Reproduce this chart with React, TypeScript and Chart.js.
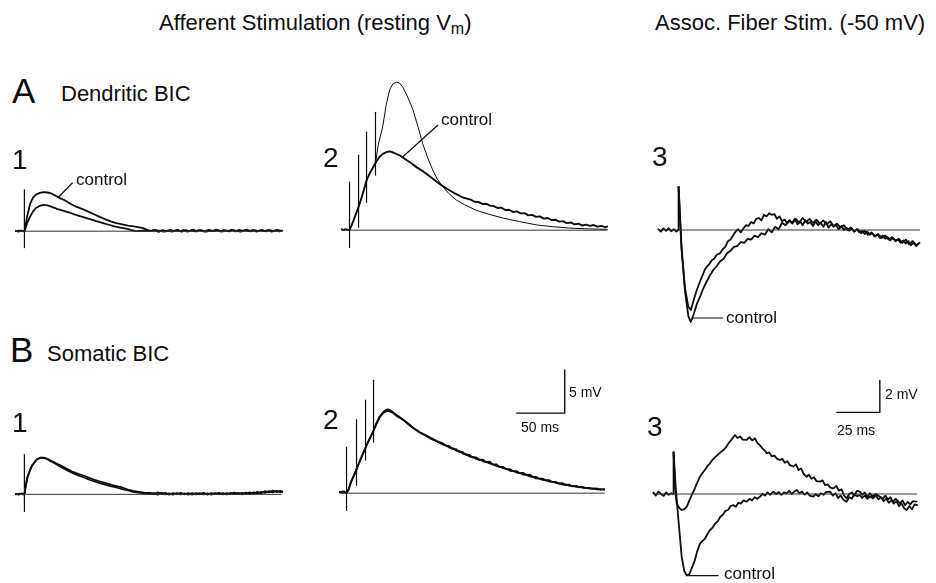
import React, { useEffect, useRef } from "react";
import { Chart, registerables } from "chart.js";

Chart.register(...registerables);

// ---------- DATA (time in ms relative to stimulus, voltage in mV) ----------
type P = [number, number];

// A1 – dendritic BIC, afferent stimulation, single shock
const a1Control: P[] = [[-9,0.05],[-6,-0.05],[-3,0.08],[-1,0],[0,0],[1,0.5],[3,1.8],[6,3.2],[9,3.9],[12,4.25],[16,4.45],[20,4.55],[24,4.5],[28,4.4],[32,4.15],[37,3.85],[42,3.6],[48,3.2],[54,2.85],[60,2.6],[66,2.3],[72,2.0],[78,1.7],[84,1.4],[90,1.15],[96,0.95],[102,0.8],[108,0.65],[114,0.55],[120,0.45],[124,0.35],[128,0.15],[132,0.05],[136,0.15],[140,-0.08],[144,0.14],[148,-0.02],[152,0.18],[156,0.02],[160,0.16],[164,-0.06],[168,0.12],[172,0.0],[176,0.18],[180,-0.02],[184,0.14],[188,-0.04],[192,0.16],[196,0.02],[200,0.18],[204,-0.02],[208,0.14],[212,0.0],[216,0.17],[220,-0.04],[224,0.15],[228,0.03],[232,0.18],[236,-0.02],[240,0.14],[244,0.02],[248,0.17],[252,-0.03],[256,0.14],[260,0.02],[264,0.16],[268,0.03]];
const a1Bic: P[] = [[-9,0],[-5,0.08],[-2,-0.03],[0,0],[1,0.3],[3,1.0],[6,1.7],[9,2.3],[12,2.7],[16,2.95],[20,3.05],[24,3.0],[28,2.85],[34,2.6],[40,2.4],[46,2.2],[52,1.95],[58,1.75],[64,1.55],[70,1.35],[76,1.15],[82,0.95],[88,0.75],[94,0.55],[100,0.42],[106,0.3],[112,0.12],[116,0.05],[120,0],[125,0.08],[130,0.02],[135,0.1],[140,0.08],[145,-0.05],[150,0.05],[154,-0.05],[158,0.1],[162,0.0],[166,0.14],[170,-0.06],[174,0.08],[178,-0.02],[182,0.14],[186,0.02],[190,-0.05],[194,0.1],[198,0.0],[202,0.13],[206,-0.06],[210,0.09],[214,-0.02],[218,0.14],[222,0.01],[226,-0.04],[230,0.11],[234,0.0],[238,0.14],[242,-0.04],[246,0.1],[250,0.01],[254,0.14],[258,-0.05],[262,0.09],[266,-0.02],[269,0.06]];
const a1Stim: [number, number, number][] = [[0,-1.9,4.8]];
const a1Base: P[] = [[-9,0],[268,0]];
const a1Leader: P[] = [[50,5.6],[35.4,3.95]];

// A2 – dendritic BIC, afferent train of four shocks
const a2Control: P[] = [[-8,0.1],[-6,0],[-4,0.12],[-2,0.05],[0,0],[3,0.8],[6,1.7],[9.4,2.7],[12,3.6],[15,4.7],[17.7,5.8],[21,6.6],[24,7.2],[27,7.8],[31,8.5],[35,8.9],[39,9.1],[42,9.15],[46,9.0],[52,8.7],[58,8.25],[64,7.8],[70,7.3],[77,6.8],[84,6.2],[90,5.7],[96,5.2],[103,4.7],[110,4.25],[118,3.8],[126,3.55],[130,3.3],[134,3.28],[138,3.05],[142,3.08],[146,2.85],[150,2.8],[154,2.58],[158,2.62],[162,2.35],[166,2.38],[170,2.12],[174,2.18],[178,1.95],[182,1.98],[186,1.72],[190,1.78],[194,1.55],[198,1.6],[202,1.35],[206,1.42],[210,1.18],[214,1.22],[218,1.0],[222,1.05],[226,0.82],[230,0.9],[234,0.68],[238,0.75],[242,0.55],[246,0.65],[250,0.5],[254,0.6],[258,0.42],[262,0.5],[266,0.35],[268,0.42]];
const a2Bic: P[] = [[-8,0.05],[-5,0.1],[-2,0],[0,0],[3,0.8],[6,1.7],[9.4,2.7],[12,3.6],[15,4.7],[17.7,5.8],[21,6.6],[24,7.2],[27,7.8],[30,10.0],[34.5,12.0],[38,14.5],[41.7,16.3],[45,17.0],[49,17.2],[52,17.1],[55,16.7],[60,15.6],[66,14.0],[71,12.1],[76,10.1],[81,8.5],[86.5,7.0],[91,6.0],[96,5.2],[103,4.3],[111,3.5],[120,2.95],[132,2.3],[145,1.85],[160,1.4],[177,1.0],[195,0.6],[212,0.4],[229,0.25],[248,0.15],[268,0.1]];
const a2Stim: [number, number, number][] = [[0,-2.0,5.6],[9.4,0.35,8.7],[17.7,3.26,11.4],[27,6.4,13.7]];
const a2Base: P[] = [[-8,0],[268,0]];
const a2Leader: P[] = [[91.7,12.2],[55.2,8.5]];

// A3 – dendritic BIC, association fibre stimulation at -50 mV
const a3Pre: P[] = [[-11.5,0.05],[-10,-0.1],[-8.5,0.1],[-7,-0.05],[-5.5,0.12],[-4,-0.08],[-2.5,0.05],[-1,-0.1],[0,0],[0.3,2.7]];
const a3Bic: P[] = [[0.3,2.7],[2,-1.2],[4,-3.6],[6,-4.8],[7.5,-5.0],[9,-4.4],[10.9,-3.75],[12.5,-3.3],[14,-2.9],[15.5,-2.5],[16.7,-2.3],[18,-2.15],[19.5,-1.9],[21,-1.8],[22.5,-1.55],[24.4,-1.46],[26,-1.2],[27.5,-1.05],[29,-0.7],[30.5,-0.6],[32,-0.35],[33.5,-0.1],[35,0.05],[36.5,-0.15],[38,0.1],[39.5,0.3],[41,0.25],[42.5,0.5],[44,0.4],[45.5,0.7],[47,0.75],[48.5,0.6],[50,0.95],[51.5,0.85],[53,1.05],[54.5,0.95],[56,1.0],[57.5,0.7],[59,0.85],[60.5,0.55],[62,0.65],[63.5,0.4],[65,0.6],[66.5,0.45],[68,0.7],[69.5,0.35],[71,0.55],[72.5,0.3],[74,0.6],[75.5,0.4],[77,0.5],[78.5,0.25],[80,0.55],[81.5,0.3],[83,0.45],[84.5,0.2],[86,0.5],[87.5,0.15],[89,0.35],[90.5,0.2],[92,0.3],[93.5,0.05],[95,0.25],[96.5,0],[98,0.15],[99.5,-0.05],[101,0.1],[102.5,-0.1],[104,0.05],[105.5,-0.15],[107,-0.05],[108.5,-0.25],[110,-0.1],[111.5,-0.3],[113,-0.2],[114.5,-0.4],[116,-0.3],[117.5,-0.5],[119,-0.35],[120.5,-0.55],[122,-0.45],[123.5,-0.65],[125,-0.5],[126.5,-0.7],[128,-0.6],[129.5,-0.8],[131,-0.65],[132.5,-0.85],[134,-0.7],[135.5,-0.95],[137,-0.8],[138.5,-1.0],[140,-0.85]];
const a3Control: P[] = [[0.3,2.7],[2,-1.0],[4,-3.8],[6,-5.4],[7.4,-5.75],[9,-5.3],[11,-4.6],[12.8,-4.17],[14.5,-3.7],[16.5,-3.25],[18.5,-2.85],[20.5,-2.5],[22.5,-2.25],[24.5,-1.95],[26.5,-1.8],[28.5,-1.45],[30.5,-1.3],[32.5,-1.05],[34.5,-1.0],[36.5,-0.75],[38.5,-0.8],[40.5,-0.55],[42.5,-0.6],[44.5,-0.35],[46.5,-0.45],[48.5,-0.2],[50.5,-0.3],[52.5,0.05],[54.5,-0.15],[56.5,0.2],[58.5,0.05],[60.5,0.45],[62.5,0.3],[64.5,0.6],[66.5,0.4],[68.5,0.7],[70.5,0.45],[72.5,0.75],[74.5,0.5],[76.5,0.7],[78.5,0.45],[80.5,0.65],[82.5,0.4],[84.5,0.6],[86.5,0.35],[88.5,0.55],[90.5,0.25],[92.5,0.4],[94.5,0.15],[96.5,0.3],[98.5,0],[100.5,0.15],[102.5,-0.1],[104.5,0.05],[106.5,-0.2],[108.5,-0.05],[110.5,-0.3],[112.5,-0.15],[114.5,-0.4],[116.5,-0.25],[118.5,-0.5],[120.5,-0.35],[122.5,-0.6],[124.5,-0.45],[126.5,-0.65],[128.5,-0.55],[130.5,-0.8],[132.5,-0.6],[134.5,-0.9],[136.5,-0.7],[138.5,-0.95],[140.5,-0.8]];
const a3Base: P[] = [[-11.5,0],[140.5,0]];
const a3Leader: P[] = [[8.5,-5.5],[26,-5.5]];

// B1 – somatic BIC, afferent single shock
const b1Control: P[] = [[-9,0.05],[-6,-0.05],[-3,0.1],[0,0],[1,0.8],[3,2.0],[6,2.9],[8,3.4],[10.4,3.75],[13,4.1],[16.7,4.3],[20,4.3],[24,4.15],[27,3.95],[32,3.7],[38,3.35],[44.8,2.95],[50,2.65],[56,2.4],[61.5,2.2],[67,1.95],[73,1.7],[79,1.5],[85,1.3],[90,1.15],[96,0.97],[102,0.8],[108,0.55],[113.5,0.4],[119,0.3],[125,0.2],[131,0.17],[135,0.02],[139,0.22],[143,0.05],[147,0.18],[151,-0.03],[155,0.15],[159,0.02],[163,0.18],[167,-0.01],[171,0.15],[175,-0.03],[179,0.13],[183,0.02],[187,0.18],[191,-0.03],[195,0.15],[199,0.02],[203,0.18],[207,-0.01],[211,0.15],[215,0.02],[219,0.21],[223,0.02],[227,0.18],[231,0.05],[235,0.23],[239,0.07],[243,0.28],[247,0.12],[251,0.38],[255,0.22],[259,0.43],[263,0.27],[267,0.41],[269,0.3]];
const b1Bic: P[] = [[-9,0],[-5,0.08],[-2,0],[0,0],[1,0.7],[3,1.9],[6,2.85],[8,3.35],[10.4,3.7],[13,4.05],[16.7,4.25],[20,4.25],[24,4.1],[27,3.9],[32,3.6],[38,3.2],[44.8,2.8],[50,2.5],[56,2.2],[61.5,2.0],[67,1.75],[73,1.5],[79,1.3],[85,1.1],[90,0.95],[96,0.8],[102,0.6],[108,0.45],[113.5,0.3],[119,0.2],[125,0.12],[131,0.05],[135,0.14],[139,-0.04],[143,0.17],[147,0.0],[151,0.12],[155,-0.05],[159,0.14],[163,-0.02],[167,0.12],[171,-0.04],[175,0.14],[179,0.0],[183,0.15],[187,-0.02],[191,0.12],[195,-0.04],[199,0.14],[203,0.01],[207,0.15],[211,-0.02],[215,0.17],[219,0.03],[223,0.17],[227,0.0],[231,0.2],[235,0.03],[239,0.22],[243,0.08],[247,0.3],[251,0.16],[255,0.37],[259,0.23],[263,0.42],[267,0.26],[269,0.35]];
const b1Stim: [number, number, number][] = [[0,-2.0,4.65]];
const b1Base: P[] = [[-9,0],[268,0]];

// B2 – somatic BIC, afferent train
const b2Control: P[] = [[-7,0.15],[-5,0.05],[-3,0.2],[-1,0.1],[0,0],[2,0.4],[5,1.4],[7.5,2.0],[10,2.67],[13,3.5],[16,4.3],[18.75,5.0],[21,5.6],[24,6.3],[27.4,7.1],[31,8.1],[34.4,8.9],[38,9.4],[41,9.65],[43,9.75],[46,9.6],[49,9.35],[51.7,9.1],[56,8.8],[60,8.45],[65,8.0],[70,7.55],[76,7.1],[82,6.75],[88,6.4],[94,6.05],[100,5.8],[103,5.55],[107,5.45],[110,5.15],[114,5.1],[117,4.8],[121,4.75],[124,4.45],[128,4.45],[131,4.15],[135,4.15],[138,3.85],[142,3.9],[145,3.6],[149,3.65],[152,3.35],[156,3.35],[159,3.05],[163,3.05],[166,2.8],[170,2.8],[173,2.55],[177,2.55],[180,2.35],[184,2.35],[187,2.1],[190.6,2.15],[194,1.9],[197,1.9],[200,1.7],[204,1.7],[207,1.5],[211,1.5],[214,1.3],[218,1.3],[221,1.12],[225,1.15],[228,0.95],[232,0.98],[235,0.8],[239,0.85],[242,0.68],[246,0.72],[249,0.58],[253,0.62],[256,0.5],[260,0.55],[264,0.42],[268,0.48]];
const b2Bic: P[] = [[-7,0.1],[-4,0.2],[-2,0.05],[0,0],[2,0.4],[5,1.4],[7.5,2.0],[10,2.67],[13,3.5],[16,4.3],[18.75,5.0],[21,5.6],[24,6.3],[27.4,7.1],[31,8.0],[34.4,8.8],[38,9.3],[41,9.5],[43,9.55],[46,9.45],[49,9.25],[51.7,9.0],[56,8.7],[60,8.4],[65,7.95],[70,7.5],[76,7.05],[82,6.7],[88,6.3],[94,6.0],[100,5.65],[104,5.5],[107,5.3],[111,5.2],[114,4.95],[118,4.85],[121,4.6],[125,4.5],[128,4.25],[132,4.2],[135,3.95],[139,3.9],[142,3.7],[146,3.6],[149,3.45],[153,3.3],[156,3.15],[160,3.05],[163,2.9],[167,2.8],[170,2.6],[174,2.55],[177,2.4],[181,2.3],[184,2.15],[188,2.1],[190.6,1.95],[195,1.85],[197,1.72],[201,1.68],[204,1.55],[208,1.48],[211,1.35],[215,1.3],[218,1.18],[222,1.12],[225,1.0],[229,0.98],[232,0.85],[236,0.84],[239,0.72],[243,0.72],[246,0.62],[250,0.62],[253,0.52],[257,0.55],[260,0.45],[264,0.48],[268,0.4]];
const b2Stim: [number, number, number][] = [[0,-2.0,5.35],[10.4,0.93,8.5],[19.8,3.84,10.8],[28.1,5.93,13.1]];
const b2Base: P[] = [[-7,0],[268,0]];
const b2ScaleBar = { t: 177, v: 9.3, ms: 50, mv: 5 };

// B3 – somatic BIC, association fibre stimulation
const b3Pre: P[] = [[-11.5,0.1],[-10,-0.1],[-8.5,0.15],[-7,0],[-5.5,-0.12],[-4,0.1],[-2.5,-0.05],[-1,0.05],[0,0],[0.3,2.6]];
const b3Control: P[] = [[0.3,2.6],[1.5,0.5],[3.1,-1.6],[5,-3.9],[6.5,-4.8],[8,-5.1],[9.5,-5.0],[11,-4.6],[12.5,-4.2],[14,-3.6],[15.7,-3.1],[17,-2.95],[18.5,-2.8],[20,-2.5],[21.5,-2.25],[23,-2.1],[24.5,-1.85],[26,-1.7],[27.5,-1.42],[29,-1.3],[30.5,-1.05],[32,-1.0],[33.5,-0.75],[35,-0.69],[36.5,-0.8],[38,-0.55],[39.5,-0.6],[41,-0.4],[42.8,-0.48],[44.5,-0.3],[46,-0.4],[47.5,-0.2],[49,-0.3],[50.6,-0.17],[52,0],[53.5,-0.1],[55,0.1],[56.5,-0.05],[58.3,0.15],[60,0],[61.5,0.12],[63,-0.05],[64.5,0.1],[66,0.04],[67.5,0.2],[69,0],[70.5,0.15],[72,0.25],[73.5,0.05],[75,0.15],[76.5,-0.05],[78,0.1],[79.5,-0.1],[81.6,-0.17],[83,0],[84.5,-0.15],[86,0.05],[87.5,-0.05],[89,0.12],[91.3,0.15],[93,-0.1],[94.5,0.05],[96,-0.25],[97.5,-0.1],[99,-0.35],[101,-0.48],[102.5,-0.2],[104,-0.3],[105.5,0],[107,-0.15],[108.7,-0.06],[110,-0.25],[111.5,-0.1],[113,-0.3],[114.5,-0.15],[116.3,-0.27],[118,-0.1],[119.5,-0.35],[121,-0.2],[122.5,-0.45],[124,-0.3],[125.5,-0.55],[127,-0.4],[128.5,-0.6],[130,-0.45],[131.5,-0.75],[133,-0.6],[134.5,-0.9],[136,-1.0],[137.5,-0.75],[139,-0.95],[140.5,-0.65],[142,-0.7]];
const b3Bic: P[] = [[0.3,2.6],[1.2,0.3],[2.1,-0.58],[3.5,-0.85],[5,-1.0],[6.5,-0.95],[8,-0.79],[9.5,-0.4],[10.9,-0.06],[12.5,0.3],[14,0.7],[15.7,1.08],[17,1.3],[18.5,1.5],[20,1.75],[21.5,1.92],[23,2.15],[24.5,2.3],[26,2.45],[27.5,2.6],[29.3,2.75],[31,2.95],[32.5,3.2],[34,3.4],[36,3.69],[37.5,3.5],[39,3.6],[40.5,3.4],[42.8,3.38],[44.5,3.55],[46,3.35],[47.7,3.48],[49,3.2],[50.5,3.05],[52,2.85],[53.5,2.7],[54.5,2.54],[56,2.6],[57.5,2.35],[59,2.4],[60.5,2.2],[62.2,2.125],[63.5,2.2],[65,1.95],[66.5,2.05],[68,1.8],[70,1.71],[71.5,1.85],[73,1.5],[74.5,1.6],[76,1.25],[77.7,1.08],[79,1.2],[80.5,0.95],[82,1.05],[83.5,0.8],[85.5,0.77],[87,0.85],[88.5,0.55],[90,0.6],[91.5,0.4],[93.2,0.35],[95,0.5],[96.5,0.2],[98,0.3],[99.5,-0.1],[101,-0.27],[102.5,0],[104,0.1],[105.5,-0.1],[107,0.2],[108.7,0.15],[110,-0.05],[111.5,0.1],[113,-0.2],[114.5,0.05],[116,-0.15],[118,0],[120.3,-0.17],[122,-0.3],[123.5,-0.1],[125,-0.35],[126.5,-0.2],[128,-0.5],[129.5,-0.3],[131,-0.45],[132,-0.58],[133.5,-0.4],[135,-0.7],[136.5,-0.5],[138,-0.65],[139.5,-0.45],[141.7,-0.48]];
const b3Base: P[] = [[-11.5,0],[141.7,0]];
const b3Leader: P[] = [[9,-5.1],[26.2,-5.1]];
const b3ScaleBar = { t: 95.3, v: 5.1, ms: 25, mv: 2 };

// ---------- helpers ----------
const INK = "#0d0d0d";
const xy = (a: P[]) => a.map(([x, y]) => ({ x, y }));
const line = (a: P[], w = 1.8, color = INK) => ({
  data: xy(a), showLine: true, borderColor: color, borderWidth: w,
  pointRadius: 0, fill: false, tension: 0, borderCapStyle: "round", borderJoinStyle: "round",
});
const stims = (s: [number, number, number][], w = 1.2) =>
  s.map(([t, lo, hi]) => line([[t, lo], [t, hi]], w));
const scaleBar = (b: { t: number; v: number; ms: number; mv: number }) =>
  line([[b.t, b.v], [b.t + b.ms, b.v], [b.t + b.ms, b.v + b.mv]], 1.4);

type PanelDef = {
  x0: number; y0: number; pxMs: number; pxMv: number;
  t: [number, number]; v: [number, number]; datasets: any[];
};

const SLOW = { pxMs: 48 / 50, pxMv: 43 / 5 };
const FAST = { pxMs: 43 / 25, pxMv: 32 / 2 };

const panels: PanelDef[] = [
  { x0: 24, y0: 231, ...SLOW, t: [-14, 275], v: [-3, 7],
    datasets: [line(a1Base, 1, "#333"), line(a1Bic), line(a1Control), ...stims(a1Stim), line(a1Leader, 1.2)] },
  { x0: 350, y0: 230, ...SLOW, t: [-12, 272], v: [-3, 18.5],
    datasets: [line(a2Base, 1, "#333"), line(a2Bic, 1.0), line(a2Control, 1.9), ...stims(a2Stim), line(a2Leader, 1.2)] },
  { x0: 678, y0: 230, ...FAST, t: [-14, 146], v: [-7, 4],
    datasets: [line(a3Base, 1, "#333"), line(a3Pre), line(a3Bic), line(a3Control), line(a3Leader, 1.2)] },
  { x0: 24, y0: 495, ...SLOW, t: [-14, 275], v: [-3, 6],
    datasets: [line(b1Base, 1, "#333"), line(b1Bic), line(b1Control), ...stims(b1Stim)] },
  { x0: 347, y0: 493, ...SLOW, t: [-12, 272], v: [-3, 15],
    datasets: [line(b2Base, 1, "#333"), line(b2Bic), line(b2Control), ...stims(b2Stim), scaleBar(b2ScaleBar)] },
  { x0: 673, y0: 494, ...FAST, t: [-14, 146], v: [-6.5, 8],
    datasets: [line(b3Base, 1, "#333"), line(b3Pre), line(b3Control), line(b3Bic), line(b3Leader, 1.2), scaleBar(b3ScaleBar)] },
];

function Panel({ p }: { p: PanelDef }) {
  const ref = useRef<HTMLCanvasElement>(null);
  const left = p.x0 + p.t[0] * p.pxMs;
  const top = p.y0 - p.v[1] * p.pxMv;
  const width = Math.round((p.t[1] - p.t[0]) * p.pxMs);
  const height = Math.round((p.v[1] - p.v[0]) * p.pxMv);
  useEffect(() => {
    if (!ref.current) return;
    const chart = new Chart(ref.current, {
      type: "scatter",
      data: { datasets: p.datasets },
      options: {
        animation: false, responsive: false, devicePixelRatio: 1,
        layout: { padding: 0 },
        plugins: { legend: { display: false }, tooltip: { enabled: false } },
        scales: {
          x: { type: "linear", min: p.t[0], max: p.t[1], display: false },
          y: { type: "linear", min: p.v[0], max: p.v[1], display: false },
        },
      } as any,
    });
    return () => chart.destroy();
  }, []);
  return (
    <canvas ref={ref} width={width} height={height}
      style={{ position: "absolute", left, top, width, height }} />
  );
}

const FONT = "'Liberation Sans', Arial, Helvetica, sans-serif";
function T({ x, y, size, children }: { x: number; y: number; size: number; children: any }) {
  return (
    <div style={{ position: "absolute", left: x, top: y, fontSize: size, lineHeight: 1,
      fontFamily: FONT, color: INK, whiteSpace: "nowrap" }}>{children}</div>
  );
}

export default function App() {
  return (
    <div style={{ position: "absolute", left: 0, top: 0, width: 936, height: 583, background: "#fff", overflow: "hidden" }}>
      {panels.map((p, i) => <Panel key={i} p={p} />)}
      <T x={159} y={12} size={22}>Afferent Stimulation (resting V<span style={{ fontSize: 16, position: "relative", top: 4 }}>m</span>)</T>
      <T x={655} y={12} size={22}>Assoc. Fiber Stim. (-50 mV)</T>
      <T x={12} y={73} size={35}>A</T>
      <T x={61} y={83} size={22}>Dendritic BIC</T>
      <T x={10} y={332} size={35}>B</T>
      <T x={47} y={343} size={22}>Somatic BIC</T>
      <T x={12} y={146} size={28}>1</T>
      <T x={323} y={144} size={28}>2</T>
      <T x={652} y={143} size={28}>3</T>
      <T x={12} y={409} size={28}>1</T>
      <T x={323} y={406} size={28}>2</T>
      <T x={647} y={413} size={28}>3</T>
      <T x={76} y={171} size={17}>control</T>
      <T x={441} y={111} size={17}>control</T>
      <T x={726} y={309} size={17}>control</T>
      <T x={724} y={565} size={17}>control</T>
      <T x={569} y={385} size={14}>5 mV</T>
      <T x={521} y={420} size={14}>50 ms</T>
      <T x={885} y={387} size={14}>2 mV</T>
      <T x={837} y={423} size={14}>25 ms</T>
    </div>
  );
}
